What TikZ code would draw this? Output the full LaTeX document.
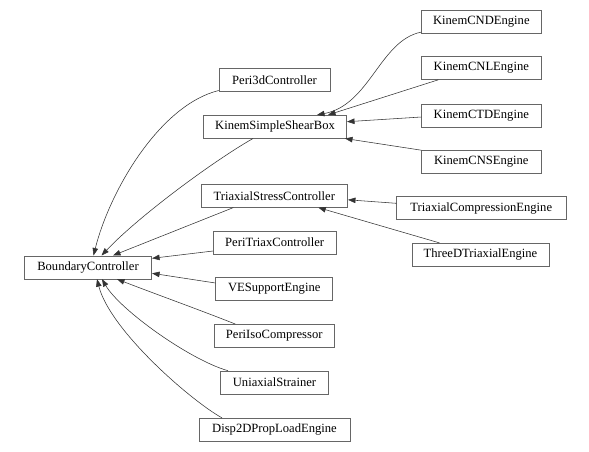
\documentclass[tikz,border=0pt]{standalone}
\usepackage{fontspec}
\setmainfont{Liberation Serif}
\usetikzlibrary{arrows.meta}
\begin{document}
\begin{tikzpicture}[x=1pt,y=-1pt,
  cls/.style={draw=black!60, line width=0.6pt, fill=white, inner sep=0pt, minimum height=23pt, font=\fontsize{12.6}{14}\selectfont},
  edge/.style={draw=black!80, line width=0.55pt, -{Triangle[length=7.5pt,width=5.5pt]}}]
\useasboundingbox (0,0) rectangle (589,451);
\node[cls, minimum width=127.5pt] (bc) at (88,267.3) {BoundaryController};
\node[cls, minimum width=111pt] (p3d) at (274.5,79.7) {Peri3dController};
\node[cls, minimum width=143.4pt] (kssb) at (275,126.7) {KinemSimpleShearBox};
\node[cls, minimum width=119.3pt] (cnd) at (481.3,21.3) {KinemCNDEngine};
\node[cls, minimum width=119.3pt] (cnl) at (481.3,68) {KinemCNLEngine};
\node[cls, minimum width=119.3pt] (ctd) at (481.3,115.5) {KinemCTDEngine};
\node[cls, minimum width=119.3pt] (cns) at (481.3,162) {KinemCNSEngine};
\node[cls, minimum width=146.7pt] (ts) at (274.3,195.8) {TriaxialStressController};
\node[cls, minimum width=169.3pt] (tc) at (481.3,208) {TriaxialCompressionEngine};
\node[cls, minimum width=137pt] (td) at (480.5,254.7) {ThreeDTriaxialEngine};
\node[cls, minimum width=122.7pt] (pt) at (274.7,242.5) {PeriTriaxController};
\node[cls, minimum width=117pt] (ve) at (274.2,289) {VESupportEngine};
\node[cls, minimum width=120.3pt] (pi) at (274.2,335.8) {PeriIsoCompressor};
\node[cls, minimum width=107.6pt] (ua) at (274.5,382.5) {UniaxialStrainer};
\node[cls, minimum width=151pt] (dp) at (274.5,429.7) {Disp2DPropLoadEngine};
% edges to BoundaryController
\draw[edge] ([yshift=1pt]p3d.south west) .. controls (160,105) and (110,190) .. ([xshift=5.5pt]bc.north);
\draw[edge] ([xshift=-22pt]kssb.south) .. controls (215,160) and (140,215) .. ([xshift=13.5pt]bc.north);
\draw[edge] ([xshift=-41pt]ts.south) -- ([xshift=25pt]bc.north);
\draw[edge] ([yshift=-8.5pt]pt.west) -- ([yshift=9pt]bc.east);
\draw[edge] ([yshift=6pt]ve.west) -- ([yshift=-6pt]bc.east);
\draw[edge] ([xshift=-39pt]pi.north) .. controls (200,310) and (150,292) .. ([xshift=29pt]bc.south);
\draw[edge] ([xshift=-46.5pt]ua.north) .. controls (190,360) and (120,310) .. ([xshift=14pt]bc.south);
\draw[edge] ([xshift=-52.5pt]dp.north) .. controls (190,400) and (110,330) .. ([xshift=9pt]bc.south);
% edges to KinemSimpleShearBox
\draw[edge] ([yshift=1pt]cnd.south west) .. controls (380,40) and (370,105) .. ([xshift=42pt]kssb.north);
\draw[edge] ([xshift=-43pt]cnl.south) -- ([xshift=53pt]kssb.north);
\draw[edge] ([yshift=-1.5pt]ctd.west) -- ([yshift=5pt]kssb.east);
\draw[edge] (cns.north west) -- ([xshift=-2pt]kssb.south east);
% edges to TriaxialStressController
\draw[edge] ([yshift=4.7pt]tc.west) -- ([yshift=-4pt]ts.east);
\draw[edge] ([xshift=-41pt]td.north) -- ([xshift=44pt]ts.south);
\end{tikzpicture}
\end{document}
